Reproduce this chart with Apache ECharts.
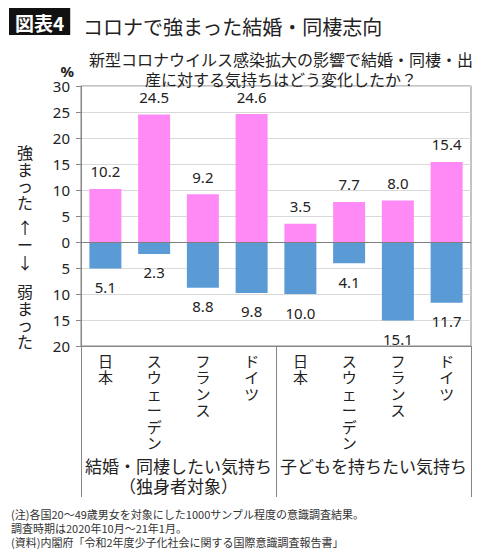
<!DOCTYPE html>
<html><head><meta charset="utf-8">
<script src="https://cdn.jsdelivr.net/npm/echarts@6/dist/echarts.min.js"></script>
<style>html,body{margin:0;padding:0;background:#fff;}#c{width:500px;height:555px;}</style>
</head><body><div id="c"></div>
<script>
const categories = ['日本','スウェーデン','フランス','ドイツ','日本','スウェーデン','フランス','ドイツ'];
const groups = ['結婚・同棲したい気持ち\n（独身者対象）','子どもを持ちたい気持ち'];
const strengthened = [10.2, 24.5, 9.2, 24.6, 3.5, 7.7, 8.0, 15.4];
const weakened = [5.1, 2.3, 8.8, 9.8, 10.0, 4.1, 15.1, 11.7];
const yTicks = {min: -20, max: 30, interval: 5};

const JP = '"Noto Sans CJK JP", "Noto Sans", sans-serif';
const NUM = '"Noto Sans", "Noto Sans CJK JP", sans-serif';
const chart = echarts.init(document.getElementById('c'), null, {renderer: 'svg'});
const gridLeft = 81, gridRight = 29, gridTop = 86, gridBottom = 209;
chart.setOption({
  backgroundColor: '#fff',
  animation: false,
  title: [
    {text: '図表4', left: 9, top: 8, backgroundColor: '#111', padding: [3, 6, 2, 6],
      textStyle: {color: '#fff', fontSize: 19, fontWeight: 'bold', fontFamily: JP, lineHeight: 22}},
    {text: 'コロナで強まった結婚・同棲志向', left: 78, top: 9,
      textStyle: {color: '#222', fontSize: 20, fontWeight: 'normal', fontFamily: JP, lineHeight: 24}},
    {text: '新型コロナウイルス感染拡大の影響で結婚・同棲・出\n産に対する気持ちはどう変化したか？', left: 276, textAlign: 'center', top: 44,
      textStyle: {color: '#222', fontSize: 16, fontWeight: 'normal', fontFamily: JP, lineHeight: 20, align: 'center'}},
    {text: '(注)各国20〜49歳男女を対象にした1000サンプル程度の意識調査結果。\n調査時期は2020年10月〜21年1月。\n(資料)内閣府「令和2年度少子化社会に関する国際意識調査報告書」', left: 6, top: 502,
      textStyle: {color: '#333', fontSize: 11, fontWeight: 'normal', fontFamily: JP, lineHeight: 14}}
  ],
  graphic: [
    {type: 'text', left: 17, top: 144, style: {text: '強\nま\nっ\nた', font: '16px ' + JP, lineHeight: 16.5, fill: '#222', align: 'center'}},
    {type: 'text', left: 17, top: 218, style: {text: '↑\nー\n↓', font: '16px ' + JP, lineHeight: 17.5, fill: '#222', align: 'center'}},
    {type: 'text', left: 17, top: 283, style: {text: '弱\nま\nっ\nた', font: '16px ' + JP, lineHeight: 16.5, fill: '#222', align: 'center'}}
  ],
  grid: {left: gridLeft, right: gridRight, top: gridTop, bottom: gridBottom, show: true, borderColor: '#868686', borderWidth: 1, containLabel: false},
  xAxis: [
    {type: 'category', data: categories, position: 'bottom',
      axisLine: {onZero: false, lineStyle: {color: '#868686'}},
      axisTick: {show: false},
      axisLabel: {interval: 0, margin: 6, color: '#222', fontSize: 15, fontFamily: JP, lineHeight: 16.5,
        formatter: v => v.split('').join('\n')}},
    {type: 'category', data: groups, position: 'bottom',
      axisLine: {show: false, onZero: false},
      axisTick: {show: true, length: 151, lineStyle: {color: '#868686'}},
      axisLabel: {interval: 0, margin: 109, color: '#222', fontSize: 17, fontFamily: JP, lineHeight: 20, verticalAlign: 'top', align: 'center'}}
  ],
  yAxis: {type: 'value', min: yTicks.min, max: yTicks.max, interval: yTicks.interval,
    name: '%', nameLocation: 'end', nameGap: 4,
    nameTextStyle: {align: 'right', padding: [0, 7, 0, 0], color: '#222', fontSize: 15, fontWeight: 'bold', fontFamily: NUM},
    axisLine: {show: true, lineStyle: {color: '#868686'}},
    axisTick: {show: true, length: 5, lineStyle: {color: '#868686'}},
    splitLine: {lineStyle: {color: '#d9d9d9'}},
    axisLabel: {margin: 11, color: '#222', fontSize: 15, fontFamily: NUM, formatter: v => String(Math.abs(v))}},
  series: [
    {type: 'bar', name: '強まった', stack: 's', data: strengthened, barWidth: 32,
      itemStyle: {color: '#ff8af6'},
      label: {show: true, position: 'top', distance: 10, color: '#222', fontSize: 15, fontFamily: NUM,
        formatter: p => p.value.toFixed(1)},
      markLine: {silent: true, symbol: 'none', label: {show: false}, lineStyle: {color: '#7f7f7f', type: 'solid', width: 1},
        data: [{yAxis: 0}]}},
    {type: 'bar', name: '弱まった', stack: 's', data: weakened.map(v => -v), barWidth: 32,
      itemStyle: {color: '#5b9bd5'},
      label: {show: true, position: 'bottom', distance: 11, color: '#222', fontSize: 15, fontFamily: NUM,
        formatter: p => Math.abs(p.value).toFixed(1)}}
  ]
});
</script></body></html>
